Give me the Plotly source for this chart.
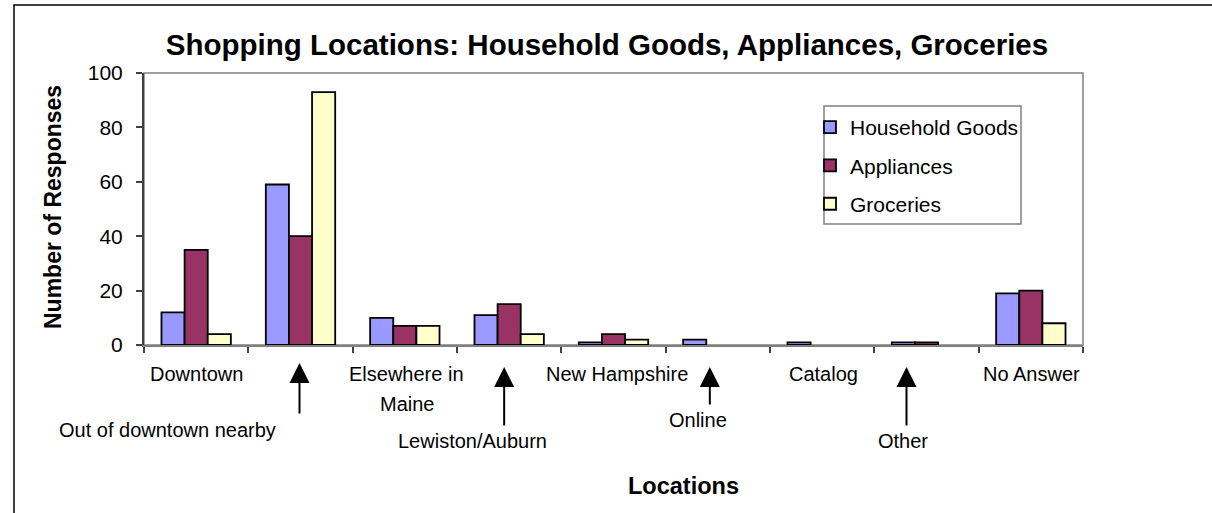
import plotly.graph_objects as go

# ---------------- data ----------------
categories = ["Downtown", "Out of downtown nearby", "Elsewhere in Maine", "Lewiston/Auburn",
              "New Hampshire", "Online", "Catalog", "Other", "No Answer"]
tick_labels = ["Downtown", "Out of downtown nearby", "Elsewhere in<br>Maine", "Lewiston/Auburn",
               "New Hampshire", "Online", "Catalog", "Other", "No Answer"]
household_goods = [12, 59, 10, 11, 1, 2, 1, 1, 19]
appliances = [35, 40, 7, 15, 4, 0, 0, 1, 20]
groceries = [4, 93, 7, 4, 2, 0, 0, 0, 8]
y_ticks = [0, 20, 40, 60, 80, 100]

series_names = ["Household Goods", "Appliances", "Groceries"]
series_colors = ["#9999FF", "#993366", "#FFFFCC"]

# ---------------- layout geometry (pixels) ----------------
W, H = 1212, 513
L, R, T, B = 144, 1083, 73, 345   # plot area
PW, PH = R - L, B - T


def pxx(x):
    return (x - L) / PW


def pxy(y):
    return (B - y) / PH


FONT = "Liberation Sans, Arial, sans-serif"

fig = go.Figure()
for name, vals, col in zip(series_names, [household_goods, appliances, groceries], series_colors):
    fig.add_trace(go.Bar(
        x=categories, y=vals, name=name, legendgroup=name,
        marker=dict(color=col, line=dict(color="black",
                                         width=[0 if v == 0 else 1.8 for v in vals])),
    ))

# label placement: (x shift px, y centre px per line, arrow: None or (x shift, tip y, tail y))
label_place = [
    (0, [374], None),
    (-133, [430], (-1, 363, 415)),
    (2, [374, 403.5], None),
    (-37, [440.5], (-5, 367, 427)),
    (3, [374], None),
    (-20, [420], (-8, 367, 406)),
    (1.5, [374], None),
    (-23.5, [440.5], (-20, 367, 427)),
    (1, [374], None),
]

annotations = []
for i, (lab, (xs, ycs, arr)) in enumerate(zip(tick_labels, label_place)):
    for line, yc in zip(lab.split("<br>"), ycs):
        annotations.append(dict(
            x=categories[i], xref="x", xshift=xs, y=pxy(yc), yref="paper",
            text=line, showarrow=False, xanchor="center", yanchor="middle",
            font=dict(family=FONT, size=20, color="black"),
        ))
    if arr is not None:
        axs, tip, tail = arr
        annotations.append(dict(
            x=categories[i], xref="x", xshift=axs, y=pxy(tip), yref="paper",
            text="", showarrow=True, ax=0, ay=tail - tip,
            arrowhead=2, arrowsize=2, arrowwidth=2, arrowcolor="black",
        ))

annotations.append(dict(
    x=pxx(53), y=pxy(207), xref="paper", yref="paper", text="<b>Number of Responses</b>",
    textangle=-90, showarrow=False, xanchor="center", yanchor="middle",
    font=dict(family=FONT, size=23, color="black"),
))
annotations.append(dict(
    x=pxx(683), y=pxy(486), xref="paper", yref="paper", text="<b>Locations</b>",
    showarrow=False, xanchor="center", yanchor="middle",
    font=dict(family=FONT, size=23.5, color="black"),
))

shapes = [
    # plot-area border
    dict(type="rect", xref="paper", yref="paper", x0=0, x1=1, y0=0, y1=1,
         line=dict(color="#808080", width=1.5), layer="below"),
    # outer chart border (only top and left edges fall inside the picture)
    dict(type="rect", xref="paper", yref="paper", x0=pxx(14), x1=pxx(1240),
         y0=pxy(540), y1=pxy(5), line=dict(color="black", width=1.5)),
    # legend frame
    dict(type="rect", xref="paper", yref="paper", x0=pxx(824), x1=pxx(1021),
         y0=pxy(224), y1=pxy(106), line=dict(color="#808080", width=1.5),
         fillcolor="white", layer="above"),
]

fig.update_layout(
    width=W, height=H,
    margin=dict(l=L, r=W - R, t=T, b=H - B, pad=0),
    paper_bgcolor="white", plot_bgcolor="white",
    font=dict(family=FONT, size=21, color="black"),
    title=dict(text="<b>Shopping Locations: Household Goods, Appliances, Groceries</b>",
               x=607 / W, xanchor="center", y=1 - 45 / H, yanchor="middle",
               font=dict(family=FONT, size=29.5, color="black")),
    barmode="group", bargap=0.335, bargroupgap=0,
    xaxis=dict(type="category", showticklabels=False, ticks="outside", tickson="boundaries",
               ticklen=6, tickwidth=1.5, tickcolor="#404040",
               showline=True, linecolor="#808080", linewidth=1.5, showgrid=False,
               range=[-0.5, 8.5], fixedrange=True),
    yaxis=dict(range=[0, 100], tickvals=y_ticks, ticks="outside", ticklen=6, tickwidth=1.5,
               tickcolor="#404040", showline=True, linecolor="#404040", linewidth=2,
               showgrid=False, zeroline=False, ticklabelstandoff=9,
               tickfont=dict(family=FONT, size=21, color="black")),
    legend=dict(x=pxx(810), y=pxy(107), xanchor="left", yanchor="top",
                bgcolor="rgba(0,0,0,0)", borderwidth=0,
                font=dict(family=FONT, size=21, color="black"),
                tracegroupgap=8, traceorder="grouped"),
    annotations=annotations,
    shapes=shapes,
)

fig.write_html("out.html", config={"displayModeBar": False},
               post_script="document.body.style.margin='0px';")
